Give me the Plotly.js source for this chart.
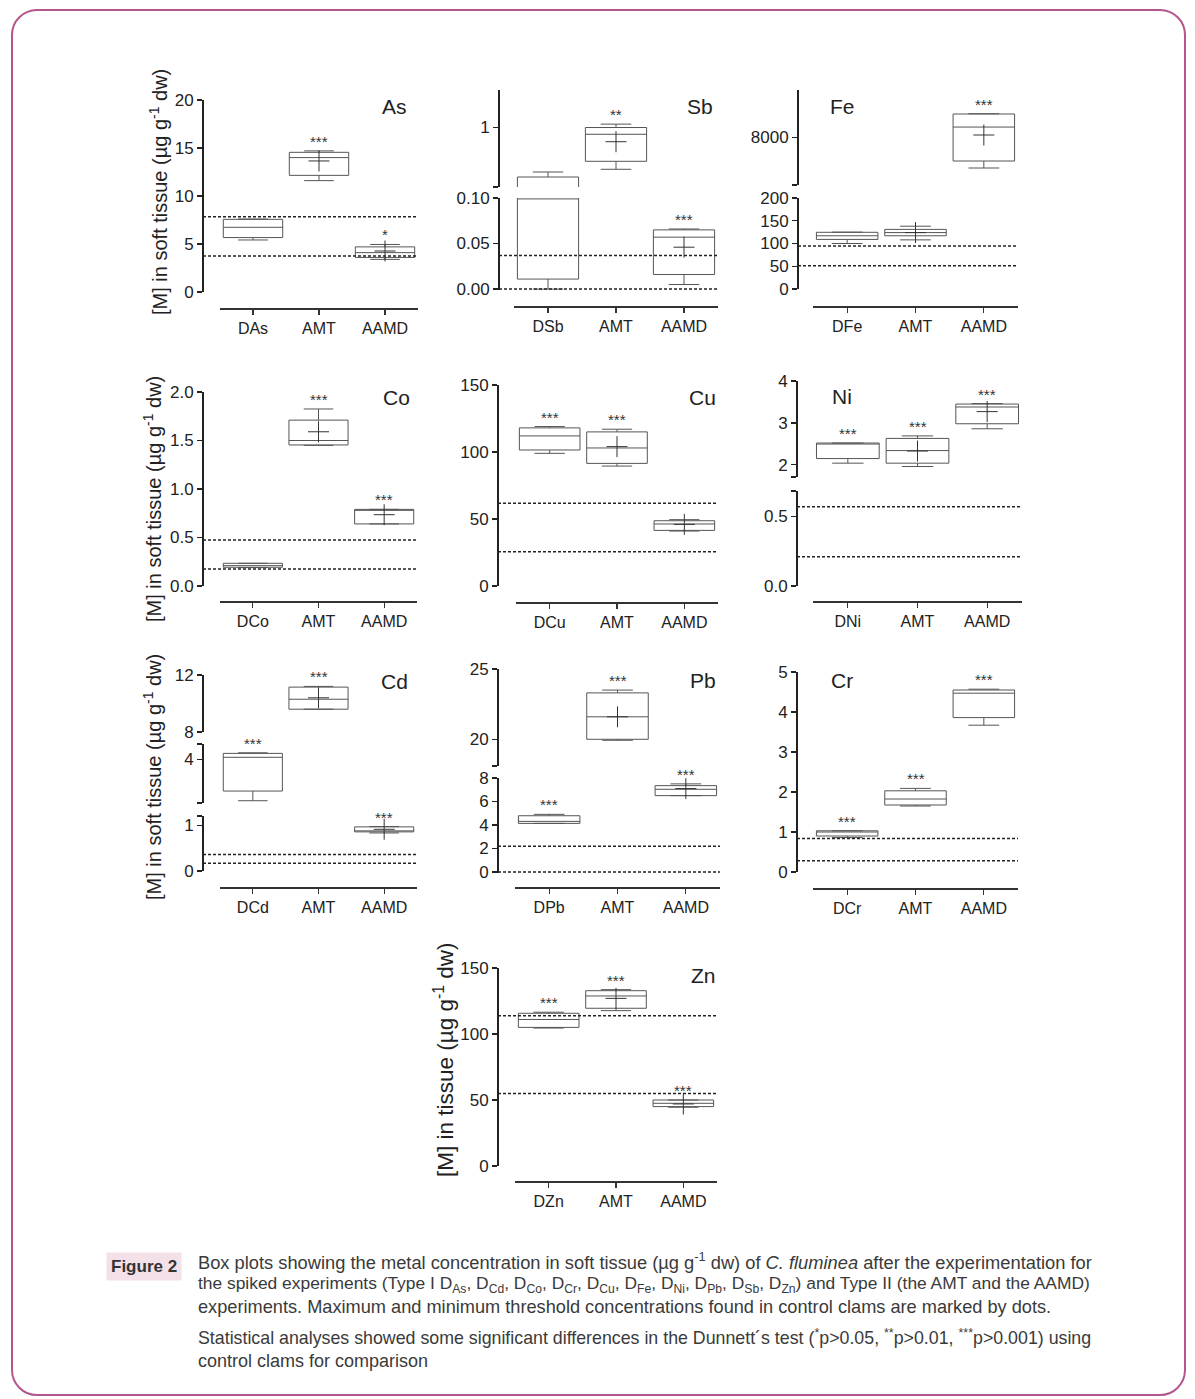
<!DOCTYPE html>
<html>
<head>
<meta charset="utf-8">
<script src="https://cdn.plot.ly/plotly-3.0.1.min.js"></script>
<style>
  html, body { margin: 0; padding: 0; background: #fff; }
  #wrap { position: relative; width: 1195px; height: 1399px; }
  #chart { position: absolute; left: 0; top: 0; width: 1195px; height: 1399px; }
  #frame { position: absolute; left: 11px; top: 9px; width: 1175px; height: 1387px; box-sizing: border-box;
           border: 2px solid #b4568b; border-radius: 26px; pointer-events: none; }
</style>
</head>
<body>
<div id="wrap"><div id="chart"></div><div id="frame"></div></div>
<script>
// ---------------- DATA ----------------
const asCats = ['DAs', 'AMT', 'AAMD'];
const asLow  = [5.42, 11.6, 3.4];
const asQ1   = [5.67, 12.15, 3.6];
const asMed  = [6.74, 14.0, 4.1];
const asQ3   = [7.57, 14.55, 4.7];
const asHigh = [7.6, 14.7, 4.95];
const asMean = [null, 13.65, 4.27];
const asSig  = ['', '***', '*'];
const asThr  = [3.75, 7.85];

const sbCats = ['DSb', 'AMT', 'AAMD'];
const sbLow  = [0.0, 0.382, 0.005];
const sbQ1   = [0.011, 0.50, 0.016];
const sbMed  = [0.099, 0.90, 0.057];
const sbQ3   = [0.268, 1.0, 0.065];
const sbHigh = [0.342, 1.05, 0.066];
const sbMean = [null, 0.79, 0.046];
const sbSig  = ['', '**', '***'];
const sbThr  = [0.0, 0.037];

const feCats = ['DFe', 'AMT', 'AAMD'];
const feLow  = [100, 108, 6716];
const feQ1   = [109, 117, 7010];
const feMed  = [117, 124, 8440];
const feQ3   = [124.6, 131, 8990];
const feHigh = [125, 138, 9000];
const feMean = [null, 124, 8105];
const feSig  = ['', '', '***'];
const feThr  = [51, 94.5];

const coCats = ['DCo', 'AMT', 'AAMD'];
const coLow  = [0.19, 1.45, 0.64];
const coQ1   = [0.193, 1.454, 0.64];
const coMed  = [0.21, 1.50, 0.785];
const coQ3   = [0.234, 1.71, 0.79];
const coHigh = [0.234, 1.825, 0.79];
const coMean = [null, 1.59, 0.735];
const coSig  = ['', '***', '***'];
const coThr  = [0.175, 0.474];

const cuCats = ['DCu', 'AMT', 'AAMD'];
const cuLow  = [99, 89.5, 41];
const cuQ1   = [101.5, 91.5, 41.5];
const cuMed  = [112, 103, 46.3];
const cuQ3   = [118, 115, 48.7];
const cuHigh = [119, 117, 49.5];
const cuMean = [null, 104, 46];
const cuSig  = ['***', '***', ''];
const cuThr  = [25.6, 61.7];

const niCats = ['DNi', 'AMT', 'AAMD'];
const niLow  = [2.04, 1.96, 2.86];
const niQ1   = [2.15, 2.04, 2.98];
const niMed  = [2.5, 2.34, 3.38];
const niQ3   = [2.52, 2.63, 3.45];
const niHigh = [2.52, 2.69, 3.46];
const niMean = [null, 2.33, 3.27];
const niSig  = ['***', '***', '***'];
const niThr  = [0.21, 0.568];

const cdCats = ['DCd', 'AMT', 'AAMD'];
const cdLow  = [1.25, 9.6, 0.83];
const cdQ1   = [1.89, 9.6, 0.854];
const cdMed  = [4.12, 10.3, 0.87];
const cdQ3   = [4.38, 11.15, 0.963];
const cdHigh = [4.42, 11.2, 0.97];
const cdMean = [null, 10.4, 0.91];
const cdSig  = ['***', '***', '***'];
const cdThr  = [0.17, 0.36];

const pbCats = ['DPb', 'AMT', 'AAMD'];
const pbLow  = [4.14, 19.93, 6.5];
const pbQ1   = [4.14, 20.0, 6.5];
const pbMed  = [4.31, 21.6, 7.04];
const pbQ3   = [4.79, 23.3, 7.35];
const pbHigh = [4.91, 23.5, 7.5];
const pbMean = [null, 21.6, 7.1];
const pbSig  = ['***', '***', '***'];
const pbThr  = [0, 2.2];

const crCats = ['DCr', 'AMT', 'AAMD'];
const crLow  = [0.86, 1.65, 3.67];
const crQ1   = [0.9, 1.675, 3.86];
const crMed  = [1.0, 1.825, 4.47];
const crQ3   = [1.03, 2.03, 4.55];
const crHigh = [1.03, 2.09, 4.57];
const crMean = [null, null, null];
const crSig  = ['***', '***', '***'];
const crThr  = [0.28, 0.84];

const znCats = ['DZn', 'AMT', 'AAMD'];
const znLow  = [104.5, 117.7, 44.5];
const znQ1   = [105, 119.5, 45];
const znMed  = [111, 128.8, 47.5];
const znQ3   = [115.7, 132.8, 50];
const znHigh = [116.5, 133.6, 50];
const znMean = [null, 127, 47];
const znSig  = ['***', '***', '***'];
const znThr  = [55, 113.9];

const panelNames = ['As', 'Sb', 'Fe', 'Co', 'Cu', 'Ni', 'Cd', 'Pb', 'Cr', 'Zn'];

// ---------------- LAYOUT GEOMETRY (pixels) ----------------
const W = 1195, H = 1399;
const FONT = 'Liberation Sans, Arial, sans-serif';
const CAPFONT = 'Liberation Sans, Arial, sans-serif';

const panels = [
  { cats: asCats, lo: asLow, q1: asQ1, med: asMed, q3: asQ3, hi: asHigh, mean: asMean, sig: asSig, thr: asThr,
    yLine: 203, xDom: [220, 418], xLine: 308, label: [395, 107],
    segs: [{ top: 100, bot: 292, range: [0, 20], ticks: [0, 5, 10, 15, 20], dec: 0, caps: [] }] },
  { cats: sbCats, lo: sbLow, q1: sbQ1, med: sbMed, q3: sbQ3, hi: sbHigh, mean: sbMean, sig: sbSig, thr: sbThr,
    yLine: 499, xDom: [514, 718], xLine: 306, label: [700, 107],
    segs: [{ top: 198, bot: 290, range: [-0.001, 0.1], ticks: [0, 0.05, 0.1], dec: 2, caps: [] },
           { top: 90, bot: 187, range: [0.12, 1.555], ticks: [1], dec: 0, caps: [0.12] }] },
  { cats: feCats, lo: feLow, q1: feQ1, med: feMed, q3: feQ3, hi: feHigh, mean: feMean, sig: feSig, thr: feThr,
    yLine: 798, xDom: [813, 1018], xLine: 306, label: [842, 106],
    segs: [{ top: 198, bot: 289, range: [0, 200], ticks: [0, 50, 100, 150, 200], dec: 0, caps: [] },
           { top: 90, bot: 185, range: [6000, 10000], ticks: [8000], dec: 0, caps: [6000] }] },
  { cats: coCats, lo: coLow, q1: coQ1, med: coMed, q3: coQ3, hi: coHigh, mean: coMean, sig: coSig, thr: coThr,
    yLine: 203, xDom: [220, 417], xLine: 601, label: [396, 398],
    segs: [{ top: 392, bot: 586, range: [0, 2], ticks: [0, 0.5, 1, 1.5, 2], dec: 1, caps: [] }] },
  { cats: cuCats, lo: cuLow, q1: cuQ1, med: cuMed, q3: cuQ3, hi: cuHigh, mean: cuMean, sig: cuSig, thr: cuThr,
    yLine: 498, xDom: [516, 718], xLine: 602, label: [702, 397],
    segs: [{ top: 385, bot: 586, range: [0, 150], ticks: [0, 50, 100, 150], dec: 0, caps: [] }] },
  { cats: niCats, lo: niLow, q1: niQ1, med: niMed, q3: niQ3, hi: niHigh, mean: niMean, sig: niSig, thr: niThr,
    yLine: 797, xDom: [813, 1022], xLine: 601, label: [842, 396],
    segs: [{ top: 491, bot: 586, range: [0, 0.68], ticks: [0, 0.5], dec: 1, caps: [0.68] },
           { top: 381, bot: 477, range: [1.71, 4], ticks: [2, 3, 4], dec: 0, caps: [1.71] }] },
  { cats: cdCats, lo: cdLow, q1: cdQ1, med: cdMed, q3: cdQ3, hi: cdHigh, mean: cdMean, sig: cdSig, thr: cdThr,
    yLine: 203, xDom: [220, 417], xLine: 887, label: [395, 681],
    segs: [{ top: 816, bot: 871, range: [0, 1.2], ticks: [0, 1], dec: 0, caps: [1.2] },
           { top: 744, bot: 803, range: [1.1, 5], ticks: [4], dec: 0, caps: [1.1, 5] },
           { top: 675, bot: 732, range: [8, 12], ticks: [8, 12], dec: 0, caps: [] }] },
  { cats: pbCats, lo: pbLow, q1: pbQ1, med: pbMed, q3: pbQ3, hi: pbHigh, mean: pbMean, sig: pbSig, thr: pbThr,
    yLine: 498, xDom: [515, 720], xLine: 887, label: [703, 680],
    segs: [{ top: 778, bot: 873, range: [-0.08, 8], ticks: [0, 2, 4, 6, 8], dec: 0, caps: [] },
           { top: 669, bot: 766, range: [18.1, 25], ticks: [20, 25], dec: 0, caps: [18.1] }] },
  { cats: crCats, lo: crLow, q1: crQ1, med: crMed, q3: crQ3, hi: crHigh, mean: crMean, sig: crSig, thr: crThr,
    yLine: 797, xDom: [813, 1018], xLine: 888, label: [842, 680],
    segs: [{ top: 672, bot: 872, range: [0, 5], ticks: [0, 1, 2, 3, 4, 5], dec: 0, caps: [] }] },
  { cats: znCats, lo: znLow, q1: znQ1, med: znMed, q3: znQ3, hi: znHigh, mean: znMean, sig: znSig, thr: znThr,
    yLine: 498, xDom: [515, 717], xLine: 1181, label: [703, 975],
    segs: [{ top: 968, bot: 1166, range: [0, 150], ticks: [0, 50, 100, 150], dec: 0, caps: [] }] }
];

const px = v => v / W;
const py = v => 1 - v / H;

const traces = [];
const shapes = [];
const annotations = [];
const layout = {
  width: W, height: H,
  margin: { l: 0, r: 0, t: 0, b: 0, pad: 0 },
  paper_bgcolor: '#ffffff', plot_bgcolor: 'rgba(0,0,0,0)',
  showlegend: false, boxgap: 0.1, boxgroupgap: 0, boxmode: 'overlay',
  font: { family: FONT, color: '#222' }
};

const inRange = (v, r) => v !== null && v !== undefined && v >= r[0] && v <= r[1];

let yCount = 0;
panels.forEach((p, pi) => {
  const xn = pi === 0 ? '' : String(pi + 1);
  const xref = 'x' + xn;
  layout['xaxis' + xn] = {
    domain: [px(p.xDom[0]), px(p.xDom[1])], anchor: 'free', position: py(p.xLine),
    type: 'category', range: [-0.5, 2.5], showline: true, linecolor: '#333', linewidth: 1.5,
    ticks: 'outside', ticklen: 5, tickwidth: 1.2, tickcolor: '#333',
    tickfont: { family: FONT, size: 16, color: '#222' },
    showgrid: false, zeroline: false, fixedrange: true
  };
  p.segs.forEach(s => {
    yCount++;
    const yn = yCount === 1 ? '' : String(yCount);
    s.yref = 'y' + yn;
    const vals = s.ticks.concat(s.caps);
    const texts = s.ticks.map(t => t.toFixed(s.dec)).concat(s.caps.map(() => ''));
    layout['yaxis' + yn] = {
      domain: [py(s.bot), py(s.top)], anchor: 'free', position: px(p.yLine),
      range: s.range, tickmode: 'array', tickvals: vals, ticktext: texts,
      showline: true, linecolor: '#222', linewidth: 2,
      ticks: 'outside', ticklen: 5, tickwidth: 1.2, tickcolor: '#222',
      tickfont: { family: FONT, size: 17, color: '#222' },
      showgrid: false, zeroline: false, fixedrange: true
    };
    traces.push({
      type: 'box', x: p.cats, q1: p.q1, median: p.med, q3: p.q3,
      lowerfence: p.lo, upperfence: p.hi, boxpoints: false,
      xaxis: xref, yaxis: s.yref,
      line: { color: '#555', width: 1 }, fillcolor: 'rgba(0,0,0,0)',
      whiskerwidth: 0.5, hoverinfo: 'skip'
    });
    traces.push({
      type: 'scatter', mode: 'markers', x: p.cats,
      y: p.mean.map(v => inRange(v, s.range) ? v : null),
      xaxis: xref, yaxis: s.yref, cliponaxis: true,
      marker: { symbol: 'cross-thin-open', size: 15, color: '#333', line: { color: '#333', width: 1 } },
      hoverinfo: 'skip'
    });
  });
  const findSeg = v => p.segs.find(s => inRange(v, s.range)) || p.segs[0];
  p.thr.forEach(t => {
    const s = findSeg(t);
    shapes.push({
      type: 'line', xref: 'paper', yref: s.yref,
      x0: px(p.yLine), x1: px(p.xDom[1]), y0: t, y1: t,
      line: { color: '#222', width: 1.5, dash: '3px,2px' }, layer: 'above'
    });
  });
  p.sig.forEach((sg, k) => {
    if (!sg) return;
    const s = findSeg(p.hi[k]);
    annotations.push({
      xref: xref, yref: s.yref, x: k, y: p.hi[k], text: sg, showarrow: false,
      xanchor: 'center', yanchor: 'bottom', yshift: -1,
      font: { family: FONT, size: 15, color: '#333' }
    });
  });
  annotations.push({
    xref: 'paper', yref: 'paper', x: px(p.label[0]), y: py(p.label[1]),
    text: panelNames[pi], showarrow: false, xanchor: 'center', yanchor: 'middle',
    font: { family: FONT, size: 21, color: '#222' }
  });
});

// y axis titles
const yTitleSoft = '[M] in soft tissue (µg g<sup>-1</sup> dw)';
const yTitleZn = '[M] in tissue (µg g<sup>-1</sup> dw)';
[[159, 192, yTitleSoft, 20], [152, 499, yTitleSoft, 20], [152, 777, yTitleSoft, 20], [444, 1060, yTitleZn, 22.5]]
  .forEach(t => annotations.push({
    xref: 'paper', yref: 'paper', x: px(t[0]), y: py(t[1]), text: t[2], textangle: -90,
    showarrow: false, xanchor: 'center', yanchor: 'middle',
    font: { family: FONT, size: t[3], color: '#222' }
  }));

// caption
annotations.push({
  xref: 'paper', yref: 'paper', x: px(144), y: py(1266), text: '<b>Figure 2</b>', showarrow: false,
  xanchor: 'center', yanchor: 'middle', bgcolor: '#f4e0e9', borderpad: 4,
  font: { family: CAPFONT, size: 17, color: '#333' }
});
const capLines = [
  ['Box plots showing the metal concentration in soft tissue (µg g<sup>-1</sup> dw) of <i>C. fluminea</i> after the experimentation for', 1261, 18.3],
  ['the spiked experiments (Type I D<sub>As</sub>, D<sub>Cd</sub>, D<sub>Co</sub>, D<sub>Cr</sub>, D<sub>Cu</sub>, D<sub>Fe</sub>, D<sub>Ni</sub>, D<sub>Pb</sub>, D<sub>Sb</sub>, D<sub>Zn</sub>) and Type II (the AMT and the AAMD)', 1284, 17.4],
  ['experiments. Maximum and minimum threshold concentrations found in control clams are marked by dots.', 1307, 18.2],
  ['Statistical analyses showed some significant differences in the Dunnett´s test (<sup>*</sup>p&gt;0.05, <sup>**</sup>p&gt;0.01, <sup>***</sup>p&gt;0.001) using', 1337, 17.8],
  ['control clams for comparison', 1361, 18]
];
capLines.forEach(l => annotations.push({
  xref: 'paper', yref: 'paper', x: px(196), y: py(l[1]), text: l[0], showarrow: false,
  xanchor: 'left', yanchor: 'middle', align: 'left',
  font: { family: CAPFONT, size: l[2], color: '#3a3a3a' }
}));

layout.shapes = shapes;
layout.annotations = annotations;

Plotly.newPlot('chart', traces, layout, { staticPlot: true, displayModeBar: false });
</script>
</body>
</html>
